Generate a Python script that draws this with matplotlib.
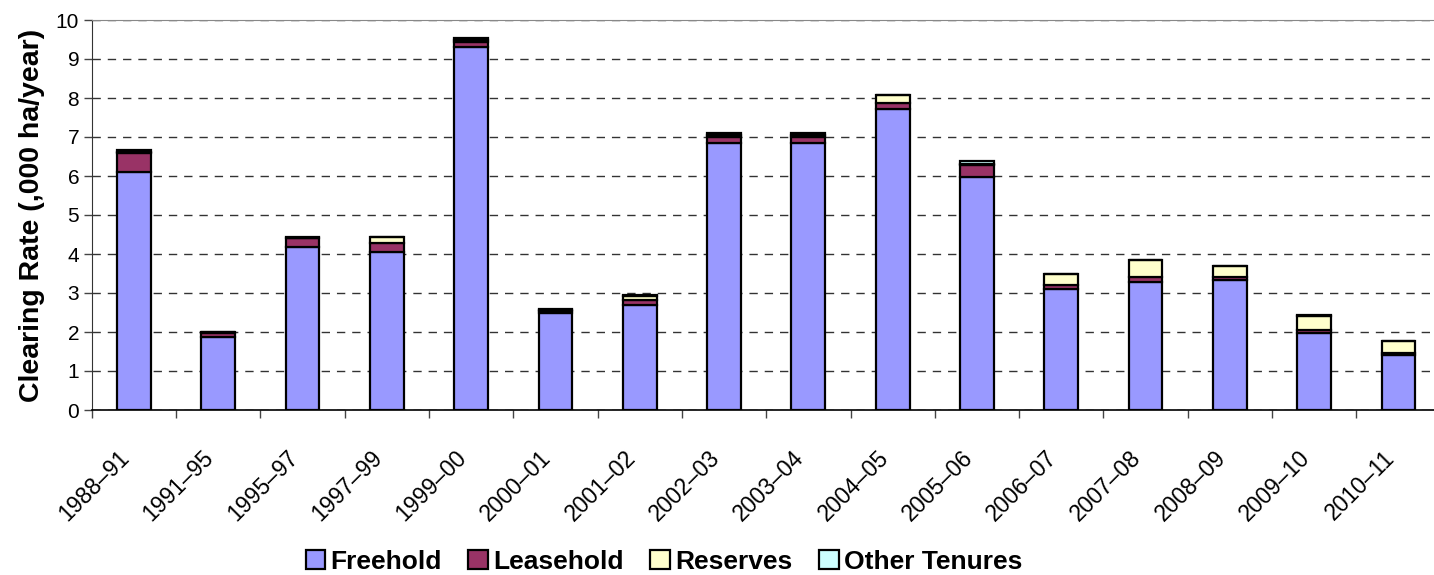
import numpy as np
import matplotlib
matplotlib.use("Agg")
import matplotlib.pyplot as plt
import matplotlib.transforms as mtransforms

# --- data (,000 ha/year) ---
periods = ["1988–91", "1991–95", "1995–97", "1997–99", "1999–00", "2000–01",
           "2001–02", "2002–03", "2003–04", "2004–05", "2005–06", "2006–07",
           "2007–08", "2008–09", "2009–10", "2010–11"]
freehold = [6.11, 1.86, 4.19, 4.06, 9.32, 2.48, 2.69, 6.85, 6.85, 7.71, 5.98,
            3.09, 3.29, 3.33, 1.97, 1.41]
leasehold = [0.47, 0.12, 0.21, 0.21, 0.12, 0.07, 0.13, 0.16, 0.16, 0.17, 0.30,
             0.12, 0.13, 0.07, 0.07, 0.06]
reserves = [0.03, 0.01, 0.01, 0.16, 0.05, 0.01, 0.10, 0.03, 0.03, 0.19, 0.04,
            0.27, 0.42, 0.28, 0.38, 0.29]
other = [0.05, 0.01, 0.02, 0.01, 0.06, 0.02, 0.02, 0.05, 0.05, 0.01, 0.06,
         0.01, 0.01, 0.01, 0.01, 0.01]

series = [("Freehold", freehold, "#9999FF"),
          ("Leasehold", leasehold, "#993366"),
          ("Reserves", reserves, "#FFFFCC"),
          ("Other Tenures", other, "#CCFFFF")]

plt.rcParams['font.family'] = ['Liberation Sans', 'DejaVu Sans']

W, H = 1434, 575
fig = plt.figure(figsize=(W / 100, H / 100), dpi=100)
# plot area runs a little past the right edge, as in the reference
ax = fig.add_axes([91.7 / W, 165 / H, 1349 / W, 390 / H])

x = np.arange(len(periods))
bottom = np.zeros(len(periods))
for name, vals, col in series:
    ax.bar(x, vals, width=0.40, bottom=bottom, color=col, edgecolor="black",
           linewidth=1.6, label=name, zorder=3)
    bottom += np.array(vals)

ax.set_xlim(-0.5, len(periods) - 0.5)
ax.set_ylim(0, 10)
ax.set_yticks(range(0, 11))
ax.tick_params(axis="y", labelsize=15, length=6, width=1, color="#444444", pad=3)
ax.set_xticks(np.arange(len(periods) + 1) - 0.5, minor=True)
ax.set_xticks(x)
ax.set_xticklabels(periods, rotation=45, ha="right", rotation_mode="anchor",
                   fontsize=16.5)
ax.tick_params(axis="x", which="major", length=0, pad=26)
ax.tick_params(axis="x", which="minor", length=6, width=1, color="#444444")
shift = mtransforms.ScaledTranslation(-16 / 100, 0, fig.dpi_scale_trans)
for lab in ax.get_xticklabels():
    lab.set_transform(lab.get_transform() + shift)

ax.yaxis.grid(True, linestyle=(0, (6, 5)), color="#333333", linewidth=1, zorder=0)
ax.set_axisbelow(True)
ax.spines["right"].set_visible(False)
ax.spines["top"].set_color("#888888")
ax.spines["left"].set_color("#333333")
ax.spines["bottom"].set_color("black")
ax.spines["bottom"].set_linewidth(1.2)

ax.set_ylabel("Clearing Rate (,000 ha/year)", fontsize=20.5, fontweight="bold",
              labelpad=8)

leg = fig.legend(loc="center", bbox_to_anchor=(664 / W, 1 - 562 / H), ncol=4,
                 frameon=False, prop={"weight": "bold", "size": 19},
                 handlelength=0.75, handleheight=0.75, handletextpad=0.2,
                 columnspacing=1.0, borderpad=0.1)
for p in leg.get_patches():
    p.set_linewidth(1.6)

fig.savefig("out.png", dpi=100)
